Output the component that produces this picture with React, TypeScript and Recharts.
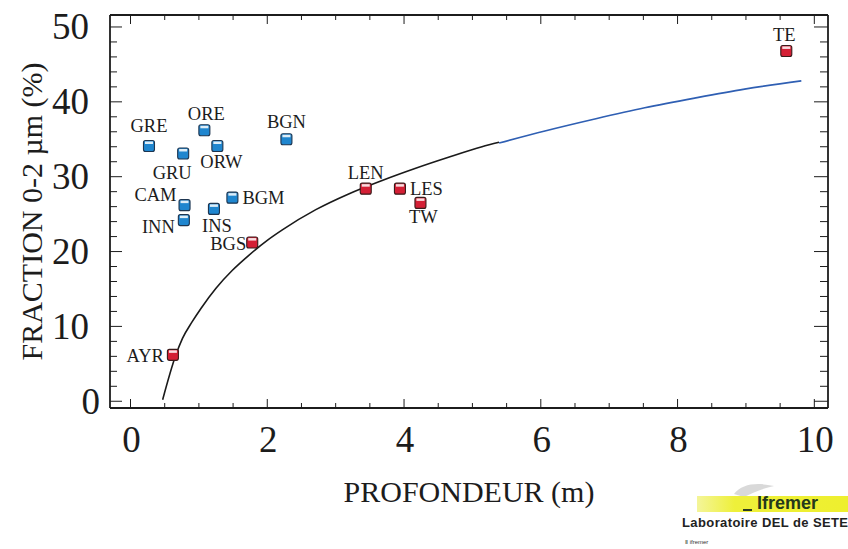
import React from "react";
import { ComposedChart, Scatter, Line, XAxis, YAxis, Label } from "recharts";

// stations: depth (m) vs fraction 0-2 µm (%)
const blueNames = ["GRE", "GRU", "ORE", "ORW", "BGN", "CAM", "INN", "INS", "BGM"];
const blueDepth = [0.27, 0.77, 1.08, 1.27, 2.28, 0.79, 0.78, 1.22, 1.49];
const blueFraction = [34.1, 33.1, 36.2, 34.1, 35.0, 26.2, 24.2, 25.7, 27.2];

const redNames = ["BGS", "LEN", "LES", "TW", "AYR", "TE"];
const redDepth = [1.78, 3.44, 3.94, 4.24, 0.62, 9.59];
const redFraction = [21.2, 28.4, 28.4, 26.5, 6.2, 46.8];

// fitted curve
const blackCurveDepth = [0.47, 0.66, 0.76, 0.9, 1.03, 1.25, 1.49, 1.73, 2.0, 2.22, 2.71, 3.19, 3.68, 4.16, 4.65, 5.14, 5.39];
const blackCurveFraction = [0.2, 6.1, 8.4, 10.6, 12.4, 15.1, 17.5, 19.5, 21.5, 22.9, 25.6, 27.7, 29.5, 31.1, 32.6, 34.0, 34.6];
const blueCurveDepth = [5.39, 6.06, 6.79, 7.52, 8.25, 8.98, 9.81];
const blueCurveFraction = [34.5, 36.1, 37.7, 39.2, 40.5, 41.7, 42.8];

const xTicks = [0, 0.5, 1, 1.5, 2, 2.5, 3, 3.5, 4, 4.5, 5, 5.5, 6, 6.5, 7, 7.5, 8, 8.5, 9, 9.5, 10];
const xLabels = [0, 2, 4, 6, 8, 10];
const yTicks = [0, 2, 4, 6, 8, 10, 12, 14, 16, 18, 20, 22, 24, 26, 28, 30, 32, 34, 36, 38, 40, 42, 44, 46, 48, 50];
const yLabels = [0, 10, 20, 30, 40, 50];

const blueData = blueNames.map((name, i) => ({ name, x: blueDepth[i], y: blueFraction[i] }));
const redData = redNames.map((name, i) => ({ name, x: redDepth[i], y: redFraction[i] }));
const blackCurve = blackCurveDepth.map((x, i) => ({ x, y: blackCurveFraction[i] }));
const blueCurve = blueCurveDepth.map((x, i) => ({ x, y: blueCurveFraction[i] }));

// where each station name sits relative to its marker
const LABEL_OFFSET: Record<string, [number, number, string]> = {
  GRE: [0, -14, "middle"],
  ORE: [2, -10, "middle"],
  BGN: [0, -11, "middle"],
  LEN: [0, -10, "middle"],
  TE: [-2, -10, "middle"],
  GRU: [-11, 26, "middle"],
  ORW: [4, 22, "middle"],
  INS: [3, 23, "middle"],
  TW: [3, 20, "middle"],
  CAM: [-8, -4, "end"],
  INN: [-9, 13, "end"],
  BGS: [-6, 7, "end"],
  AYR: [-9, 7, "end"],
  BGM: [10, 6, "start"],
  LES: [10, 6, "start"],
};

const SERIF = "'Liberation Serif', 'DejaVu Serif', serif";
const SANS = "'Liberation Sans', Arial, sans-serif";
const INK = "#1c1c1c";

function Marker(props: any) {
  const { cx, cy, payload, fill, edge } = props;
  if (cx == null || cy == null) return null;
  const [dx, dy, anchor] = LABEL_OFFSET[payload.name] || [0, -10, "middle"];
  return (
    <g>
      <rect x={cx - 5.5} y={cy - 5.5} width={11} height={11} rx={2} fill={fill} stroke={edge} strokeWidth={1.1} />
      <rect x={cx - 4} y={cy - 4.5} width={8} height={2.5} fill="#ffffff" opacity={0.85} />
      <text x={cx + dx} y={cy + dy} textAnchor={anchor} fontFamily={SERIF} fontSize={18.5} fill={INK}>
        {payload.name}
      </text>
    </g>
  );
}

function BottomTick({ x, y, payload }: any) {
  const major = payload.value % 2 === 0;
  return (
    <g>
      <line x1={x} y1={y} x2={x} y2={y - (major ? 9 : 5)} stroke={INK} strokeWidth={1} />
      {xLabels.includes(payload.value) && (
        <text x={x + 1} y={y + 44} textAnchor="middle" fontFamily={SERIF} fontSize={37} fill={INK}>
          {payload.value}
        </text>
      )}
    </g>
  );
}

function TopTick({ x, y, payload }: any) {
  const major = payload.value % 2 === 0;
  return <line x1={x} y1={y} x2={x} y2={y + (major ? 9 : 5)} stroke={INK} strokeWidth={1} />;
}

function LeftTick({ x, y, payload }: any) {
  const major = payload.value % 10 === 0;
  return (
    <g>
      <line x1={x} y1={y} x2={x + (major ? 12 : 7)} y2={y} stroke={INK} strokeWidth={1} />
      {yLabels.includes(payload.value) && (
        <text x={x - (payload.value === 0 ? 10 : 21)} y={y + 12.5} textAnchor="end" fontFamily={SERIF} fontSize={37} fill={INK}>
          {payload.value}
        </text>
      )}
    </g>
  );
}

function RightTick({ x, y, payload }: any) {
  const major = payload.value % 10 === 0;
  return <line x1={x} y1={y} x2={x - (major ? 14 : 8)} y2={y} stroke={INK} strokeWidth={1} />;
}

export default function App() {
  return (
    <div style={{ position: "absolute", left: 0, top: 0, width: 848, height: 549, background: "#fff" }}>
      <ComposedChart width={848} height={549} margin={{ top: 14, right: 19, bottom: 0, left: 0 }}>
        <XAxis
          xAxisId="bottom"
          type="number"
          dataKey="x"
          domain={[-0.3, 10.2]}
          ticks={xTicks}
          interval={0}
          height={141}
          tickSize={0}
          tickMargin={0}
          tickLine={false}
          axisLine={{ stroke: INK, strokeWidth: 1.8 }}
          tick={<BottomTick />}
          allowDataOverflow
        >
          <Label
            value="PROFONDEUR (m)"
            position="insideBottom"
            offset={47}
            style={{ fontFamily: SERIF, fontSize: 30, fill: INK }}
          />
        </XAxis>
        <XAxis
          xAxisId="top"
          orientation="top"
          type="number"
          dataKey="x"
          domain={[-0.3, 10.2]}
          ticks={xTicks}
          interval={0}
          height={1}
          tickSize={0}
          tickMargin={0}
          tickLine={false}
          axisLine={{ stroke: INK, strokeWidth: 1.8 }}
          tick={<TopTick />}
          allowDataOverflow
        />
        <YAxis
          yAxisId="left"
          type="number"
          dataKey="y"
          domain={[-0.9, 51.6]}
          ticks={yTicks}
          interval={0}
          width={110}
          tickSize={0}
          tickMargin={0}
          tickLine={false}
          axisLine={{ stroke: INK, strokeWidth: 1.8 }}
          tick={<LeftTick />}
          allowDataOverflow
        >
          <Label
            value="FRACTION 0-2 µm (%)"
            position="insideLeft"
            angle={-90}
            offset={31}
            style={{ fontFamily: SERIF, fontSize: 30, fill: INK, textAnchor: "middle" }}
          />
        </YAxis>
        <YAxis
          yAxisId="right"
          orientation="right"
          type="number"
          dataKey="y"
          domain={[-0.9, 51.6]}
          ticks={yTicks}
          interval={0}
          width={1}
          tickSize={0}
          tickMargin={0}
          tickLine={false}
          axisLine={{ stroke: INK, strokeWidth: 1.8 }}
          tick={<RightTick />}
          allowDataOverflow
        />
        <Line
          xAxisId="bottom"
          yAxisId="left"
          data={blackCurve}
          dataKey="y"
          type="monotone"
          stroke="#1a1a1a"
          strokeWidth={1.6}
          dot={false}
          activeDot={false}
          isAnimationActive={false}
        />
        <Line
          xAxisId="bottom"
          yAxisId="left"
          data={blueCurve}
          dataKey="y"
          type="monotone"
          stroke="#2f5fb3"
          strokeWidth={1.6}
          dot={false}
          activeDot={false}
          isAnimationActive={false}
        />
        <Scatter
          xAxisId="bottom"
          yAxisId="left"
          data={blueData}
          dataKey="y"
          shape={(p: any) => <Marker {...p} fill="#1f86cf" edge="#1d3550" />}
          isAnimationActive={false}
        />
        <Scatter
          xAxisId="bottom"
          yAxisId="left"
          data={redData}
          dataKey="y"
          shape={(p: any) => <Marker {...p} fill="#d41f35" edge="#3a1a1a" />}
          isAnimationActive={false}
        />
      </ComposedChart>

      {/* Ifremer stamp */}
      <svg style={{ position: "absolute", left: 730, top: 480 }} width={50} height={20}>
        <path d="M4 14 C 12 4, 26 2, 44 6 C 34 8, 24 12, 14 17 Z" fill="#c9c9c9" opacity={0.7} />
      </svg>
      <div
        style={{
          position: "absolute",
          left: 697,
          top: 496,
          width: 151,
          height: 16,
          background: "linear-gradient(90deg, #f4f59a 0%, #eef03a 25%, #eeef2e 100%)",
        }}
      />
      <div style={{ position: "absolute", left: 743, top: 509, width: 9, height: 2, background: "#2a3a20" }} />
      <div
        style={{
          position: "absolute",
          left: 757,
          top: 494,
          fontFamily: SANS,
          fontWeight: "bold",
          fontSize: 18,
          lineHeight: "18px",
          color: "#24381c",
        }}
      >
        Ifremer
      </div>
      <div
        style={{
          position: "absolute",
          left: 682,
          top: 516,
          fontFamily: SANS,
          fontWeight: "bold",
          fontSize: 13,
          letterSpacing: 0.4,
          lineHeight: "14px",
          color: "#222",
          whiteSpace: "nowrap",
        }}
      >
        Laboratoire DEL de SETE
      </div>
      <div
        style={{
          position: "absolute",
          left: 685,
          top: 539,
          fontFamily: SANS,
          fontSize: 6,
          lineHeight: "7px",
          color: "#333",
          whiteSpace: "nowrap",
        }}
      >
        Ⅱ ifremer
      </div>
    </div>
  );
}
